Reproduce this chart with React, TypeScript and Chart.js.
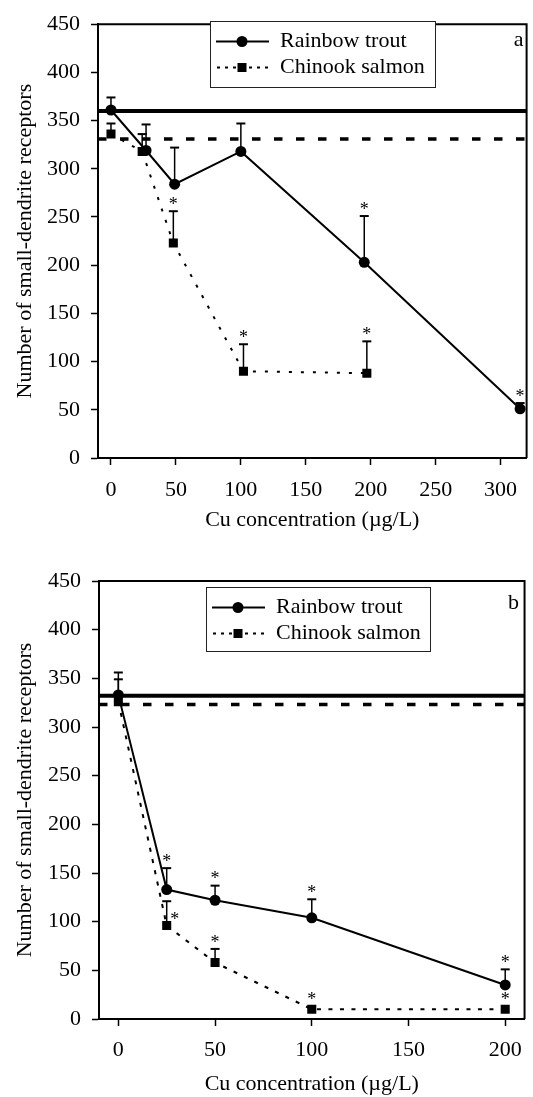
import React, { useEffect, useRef } from 'react';
import { Chart, registerables } from 'chart.js';

Chart.register(...registerables);

const FONT = "'Liberation Serif', 'Times New Roman', serif";
Chart.defaults.color = '#000';
Chart.defaults.font.family = FONT;

// ---------- Panel a data ----------
const xTicksA = [0, 50, 100, 150, 200, 250, 300];
const troutXA = [0, 27, 49, 100, 195, 315];
const troutYA = [361, 319, 284, 318, 203, 51];
const troutTopA = [374, 346, 322, 347, 251, 57];
const troutStarA = [0, 0, 0, 0, 1, 1];
const chinookXA = [0, 24, 48, 102, 197];
const chinookYA = [336, 318, 223, 90, 88];
const chinookTopA = [347, 336, 256, 118, 121];
const chinookStarA = [0, 0, 1, 1, 1];
const controlA = [360, 331];

// ---------- Panel b data ----------
const xTicksB = [0, 50, 100, 150, 200];
const troutXB = [0, 25, 50, 100, 200];
const troutYB = [333, 133, 122, 104, 35];
const troutTopB = [356, 155, 137, 123, 51];
const troutStarB = [0, 1, 1, 1, 1];
const chinookXB = [0, 25, 50, 100, 200];
const chinookYB = [326, 96, 58, 10, 10];
const chinookTopB = [349, 121, 72, 10, 10];
const chinookStarB = [0, 2, 1, 1, 1]; // 2 = asterisk beside the point
const controlB = [332, 323];

const seriesNames = ['Rainbow trout', 'Chinook salmon'];
const yTitle = 'Number of small-dendrite receptors';
const xTitle = 'Cu concentration (\u00b5g/L)';

interface Series { x: number[]; y: number[]; top: number[]; star: number[] }
interface PanelSpec {
  label: string;
  xMin: number; xMax: number; xTicks: number[];
  trout: Series; chinook: Series; control: number[];
  yWidth: number; xHeight: number; padTop: number; xTickPad: number; xTitlePad: number;
  chinookDash: number[];
  legend: { x: number; y: number; w: number; h: number };
  labelPos: { dx: number; dy: number };
}

const panelA: PanelSpec = {
  label: 'a', xMin: -10, xMax: 320, xTicks: xTicksA,
  trout: { x: troutXA, y: troutYA, top: troutTopA, star: troutStarA },
  chinook: { x: chinookXA, y: chinookYA, top: chinookTopA, star: chinookStarA },
  control: controlA,
  yWidth: 98, xHeight: 82, padTop: 16, xTickPad: 12, xTitlePad: 7,
  chinookDash: [3, 9],
  legend: { x: 210, y: 21, w: 225, h: 66 },
  labelPos: { dx: -8, dy: 16 },
};

const panelB: PanelSpec = {
  label: 'b', xMin: -10, xMax: 210, xTicks: xTicksB,
  trout: { x: troutXB, y: troutYB, top: troutTopB, star: troutStarB },
  chinook: { x: chinookXB, y: chinookYB, top: chinookTopB, star: chinookStarB },
  control: controlB,
  yWidth: 99, xHeight: 78, padTop: 41, xTickPad: 11, xTitlePad: 0,
  chinookDash: [4, 7.5],
  legend: { x: 206, y: 47, w: 224, h: 64 },
  labelPos: { dx: -11, dy: 22 },
};

function buildConfig(p: PanelSpec): any {
  const toPts = (s: Series) => s.x.map((x, i) => ({ x, y: s.y[i] }));
  const font = { family: FONT, size: 22 };

  const errPlugin = {
    id: 'errStars',
    afterDatasetsDraw(chart: any) {
      const ctx = chart.ctx;
      const xs = chart.scales.x;
      const ys = chart.scales.y;
      ctx.save();
      ctx.strokeStyle = '#000';
      ctx.fillStyle = '#000';
      [p.trout, p.chinook].forEach((s) => {
        s.x.forEach((xv, i) => {
          const px = xs.getPixelForValue(xv);
          const py = ys.getPixelForValue(s.y[i]);
          const pt = ys.getPixelForValue(s.top[i]);
          if (s.top[i] > s.y[i]) {
            ctx.lineWidth = 1.5;
            ctx.beginPath(); ctx.moveTo(px, py); ctx.lineTo(px, pt); ctx.stroke();
            ctx.lineWidth = 2;
            ctx.beginPath(); ctx.moveTo(px - 4.5, pt); ctx.lineTo(px + 4.5, pt); ctx.stroke();
          }
          ctx.font = `18px ${FONT}`;
          ctx.textAlign = 'center';
          ctx.textBaseline = 'middle';
          if (s.star[i] === 1) {
            const cy = Math.min(pt - 8, py - 11);
            ctx.fillText('*', px, cy + 2);
          } else if (s.star[i] === 2) {
            ctx.fillText('*', px + 8, py - 7 + 2);
          }
        });
      });
      ctx.restore();
    },
  };

  const framePlugin = {
    id: 'frameLegend',
    afterDraw(chart: any) {
      const ctx = chart.ctx;
      const a = chart.chartArea;
      ctx.save();
      ctx.strokeStyle = '#000';
      ctx.lineWidth = 2;
      ctx.beginPath();
      ctx.moveTo(a.left, a.top);
      ctx.lineTo(a.right, a.top);
      ctx.lineTo(a.right, a.bottom);
      ctx.stroke();

      // legend
      const L = p.legend;
      ctx.fillStyle = '#fff';
      ctx.fillRect(L.x, L.y, L.w, L.h);
      ctx.lineWidth = 1;
      ctx.strokeStyle = '#222';
      ctx.strokeRect(L.x + 0.5, L.y + 0.5, L.w, L.h);
      const rows = [L.y + 20.5, L.y + 46.5];
      ctx.strokeStyle = '#000';
      ctx.fillStyle = '#000';
      // trout sample
      ctx.lineWidth = 2;
      ctx.beginPath(); ctx.moveTo(L.x + 6, rows[0]); ctx.lineTo(L.x + 59, rows[0]); ctx.stroke();
      ctx.beginPath(); ctx.arc(L.x + 32, rows[0], 5.5, 0, Math.PI * 2); ctx.fill();
      // chinook sample
      ctx.setLineDash([3, 5]);
      ctx.beginPath(); ctx.moveTo(L.x + 7, rows[1]); ctx.lineTo(L.x + 59, rows[1]); ctx.stroke();
      ctx.setLineDash([]);
      ctx.fillRect(L.x + 32 - 4.5, rows[1] - 4.5, 9, 9);
      ctx.font = `22px ${FONT}`;
      ctx.textAlign = 'left';
      ctx.textBaseline = 'middle';
      ctx.fillText(seriesNames[0], L.x + 70, rows[0]);
      ctx.fillText(seriesNames[1], L.x + 70, rows[1]);

      // panel label
      ctx.textAlign = 'center';
      ctx.fillText(p.label, a.right + p.labelPos.dx, a.top + p.labelPos.dy);
      ctx.restore();
    },
  };

  return {
    type: 'line',
    data: {
      datasets: [
        {
          label: seriesNames[0], data: toPts(p.trout),
          borderColor: '#000', backgroundColor: '#000', borderWidth: 2,
          pointStyle: 'circle', pointRadius: 5.5, pointBorderWidth: 0, tension: 0, order: 1,
        },
        {
          label: seriesNames[1], data: toPts(p.chinook),
          borderColor: '#000', backgroundColor: '#000', borderWidth: 2, borderDash: p.chinookDash,
          pointStyle: 'rect', pointRadius: 6.4, pointBorderWidth: 0, tension: 0, order: 2,
        },
        {
          label: 'control trout',
          data: [{ x: p.xMin, y: p.control[0] }, { x: p.xMax, y: p.control[0] }],
          borderColor: '#000', borderWidth: 4, pointRadius: 0, order: 3,
        },
        {
          label: 'control chinook',
          data: [{ x: p.xMin, y: p.control[1] }, { x: p.xMax, y: p.control[1] }],
          borderColor: '#000', borderWidth: 3.5, borderDash: [8.5, 13.5], pointRadius: 0, order: 4,
        },
      ],
    },
    options: {
      animation: false,
      responsive: false,
      maintainAspectRatio: false,
      devicePixelRatio: 1,
      layout: { padding: { top: p.padTop, right: 1, left: 0, bottom: 0 } },
      plugins: { legend: { display: false }, tooltip: { enabled: false } },
      scales: {
        x: {
          type: 'linear', min: p.xMin, max: p.xMax,
          afterBuildTicks: (s: any) => { s.ticks = p.xTicks.map((v) => ({ value: v })); },
          afterFit: (s: any) => { s.height = p.xHeight; },
          ticks: { color: '#000', font, padding: p.xTickPad, maxRotation: 0, autoSkip: false },
          grid: { drawOnChartArea: false, drawTicks: true, tickLength: 7, tickWidth: 1.5, tickColor: '#000' },
          border: { display: true, color: '#000', width: 2 },
          title: { display: true, text: xTitle, color: '#000', font, padding: { top: 0, bottom: p.xTitlePad } },
        },
        y: {
          type: 'linear', min: 0, max: 450,
          afterFit: (s: any) => { s.width = p.yWidth; },
          ticks: { color: '#000', font, padding: 11, stepSize: 50 },
          grid: { drawOnChartArea: false, drawTicks: true, tickLength: 7, tickWidth: 1.5, tickColor: '#000' },
          border: { display: true, color: '#000', width: 2 },
          title: { display: true, text: yTitle, color: '#000', font, padding: { top: 12, bottom: 0 } },
        },
      },
    },
    plugins: [errPlugin, framePlugin],
  };
}

function Panel({ spec, top, height }: { spec: PanelSpec; top: number; height: number }) {
  const ref = useRef<HTMLCanvasElement>(null);
  useEffect(() => {
    const chart = new Chart(ref.current as HTMLCanvasElement, buildConfig(spec));
    return () => chart.destroy();
  }, [spec]);
  return (
    <canvas
      ref={ref}
      width={533}
      height={height}
      style={{ position: 'absolute', left: 0, top, width: 533, height, display: 'block' }}
    />
  );
}

export default function App() {
  return (
    <div style={{ position: 'absolute', left: 0, top: 0, width: 533, height: 1097, background: '#fff' }}>
      <Panel spec={panelA} top={0} height={540} />
      <Panel spec={panelB} top={540} height={557} />
    </div>
  );
}
